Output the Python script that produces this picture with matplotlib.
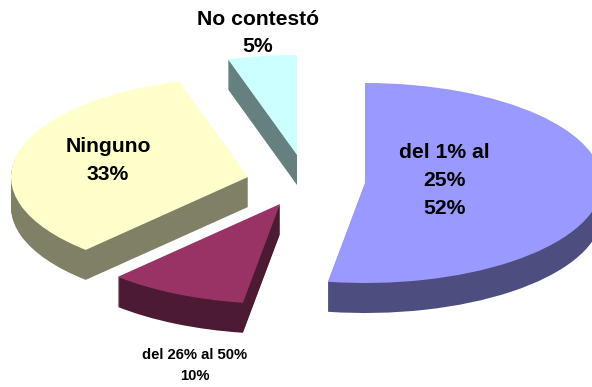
import matplotlib
matplotlib.use("Agg")
import matplotlib.pyplot as plt
from matplotlib.patches import Wedge
from matplotlib.transforms import Affine2D

plt.rcParams['font.family'] = ['Liberation Sans', 'DejaVu Sans']

# Data
categories = ["del 1% al\n25%", "del 26% al 50%", "Ninguno", "No contestó"]
values = [52.5, 9.5, 33.3, 4.7]
top_colors = ["#9999FF", "#993366", "#FFFFCC", "#CCFFFF"]
wall_colors = ["#4D4D80", "#4D1A33", "#808066", "#668080"]

# Layout (pixels)
W, H = 592, 387
RX, RY = 237, 100
DEPTH = 30
apexes = [(365, 183), (280, 204), (248, 177), (297, 155)]
label_pos = [(444, 180), (195, 365.5), (108, 160), (258, 33)]
label_size = [15.2, 10.7, 15.2, 15.2]
line_space = [1.6, 1.65, 1.6, 1.5]

fig = plt.figure(figsize=(W / 100, H / 100), dpi=100, facecolor="white")
ax = fig.add_axes([0, 0, 1, 1])
ax.set_xlim(0, W)
ax.set_ylim(H, 0)
ax.axis("off")

total = sum(values)
cum = 0
for val, top, wall, (cx, cy) in zip(values, top_colors, wall_colors, apexes):
    # clockwise from 12 o'clock
    start = 90 - 360 * (cum + val) / total
    end = 90 - 360 * cum / total
    cum += val
    for d in range(DEPTH, -1, -1):
        w = Wedge((0, 0), 1, start, end,
                  facecolor=top if d == 0 else wall,
                  edgecolor="none", linewidth=0)
        w.set_transform(Affine2D().scale(RX, -RY).translate(cx, cy + d) + ax.transData)
        ax.add_patch(w)

for cat, val, (x, y), fs, ls in zip(categories, values, label_pos, label_size, line_space):
    ax.text(x, y, f"{cat}\n{val:.0f}%", ha="center", va="center", fontsize=fs,
            fontweight="bold", color="black", linespacing=ls, multialignment="center")

fig.savefig("out.png", dpi=100, facecolor="white")
